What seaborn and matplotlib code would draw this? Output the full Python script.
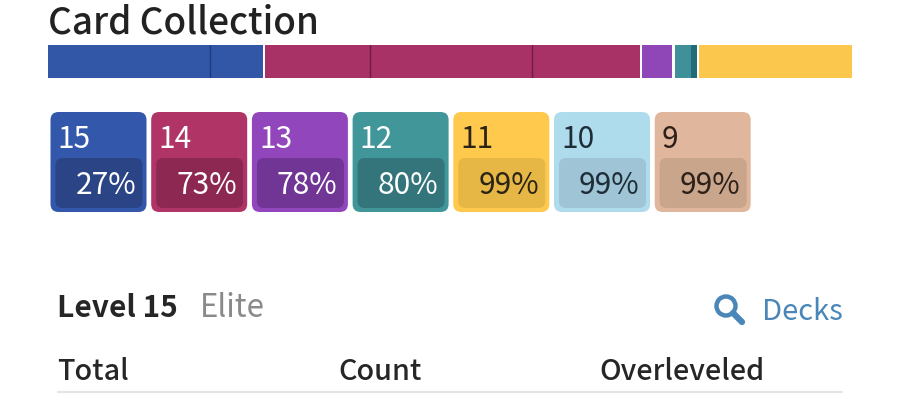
import matplotlib
matplotlib.use('Agg')
import matplotlib.pyplot as plt
import seaborn as sns
from matplotlib.patches import Circle, FancyBboxPatch

# top stacked strip, widths
seg_levels = [15, 15, 14, 14, 14, 13, 12, 12, 11]
seg_widths = [162, 53, 105, 162, 108, 30, 16, 6, 153]
seg_gaps = [0, 2, 0, 0, 2, 3, 0, 2, 0]
seg_colors = ['#3157a6', '#3157a6', '#a83265', '#a83265', '#a83265', '#8f47b8', '#3f9098', '#1f6b78', '#fbc74d']
tick_colors = {15: '#1f3a80', 14: '#6d1c45'}

# cards
levels = [15, 14, 13, 12, 11, 10, 9]
percents = [27, 73, 78, 80, 99, 99, 99]
card_colors = ['#3358ab', '#b03566', '#9147bb', '#41969a', '#fec94c', '#aedcec', '#e0b79d']
inner_colors = ['#2a4485', '#8c2852', '#703595', '#33757a', '#e6b745', '#9ec4d6', '#c9a58c']
text_colors = ['#ffffff', '#ffffff', '#ffffff', '#ffffff', '#2b2416', '#1f2d38', '#2e2119']

columns = ['Total', 'Count', 'Overleveled']
column_x = [57, 338, 599]

sns.set_theme(style='white')
plt.rcParams['font.family'] = ['Noto Sans CJK JP', 'DejaVu Sans']

fig = plt.figure(figsize=(9, 4), dpi=100)

# full figure axes in pixel coordinates
ax = fig.add_axes([0, 0, 1, 1])
ax.set_xlim(0, 900)
ax.set_ylim(400, 0)
ax.axis('off')

# strip
ax_bar = fig.add_axes([0, 1 - 78 / 400, 1, 33 / 400])
left = 48
for i in range(len(seg_widths)):
    sns.barplot(x=[seg_widths[i]], y=['strip'], left=left, color=seg_colors[i],
                saturation=1, width=1, ax=ax_bar, linewidth=0)
    left += seg_widths[i]
    # darker tick between pieces of the same level
    if seg_levels[i] in tick_colors and i < len(seg_widths) - 1 and seg_levels[i] == seg_levels[i + 1]:
        ax_bar.axvline(left, color=tick_colors[seg_levels[i]], lw=1)
    left += seg_gaps[i]
ax_bar.set_xlim(0, 900)
ax_bar.axis('off')

ax.text(48, 23, 'Card Collection', fontsize=26.6, fontweight='medium', color='#222222', va='center')

# cards
for i in range(len(levels)):
    x0 = 50.5 + i * 100.7
    ax.add_patch(FancyBboxPatch((x0, 112), 96, 100, boxstyle='round,pad=0,rounding_size=8',
                                fc=card_colors[i], ec='none'))
    ax.add_patch(FancyBboxPatch((x0 + 5, 158), 87, 50, boxstyle='round,pad=0,rounding_size=7',
                                fc=inner_colors[i], ec='none'))
    ax.text(x0 + 7, 140, str(levels[i]), fontsize=21.5, color=text_colors[i], va='center')
    ax.text(x0 + 85.5, 186, str(percents[i]) + '%', fontsize=21.5, color=text_colors[i], va='center', ha='right')

# level header
ax.text(57, 308, 'Level 15', fontsize=21.5, fontweight='bold', color='#262626', va='center')
ax.text(200, 308, 'Elite', fontsize=22.5, color='#8a8a8a', va='center')
ax.text(762, 312, 'Decks', fontsize=21, color='#4a86b8', va='center')

# magnifier icon
ax.add_patch(Circle((726, 306), 9.5, fc='none', ec='#4a86b8', lw=3.2))
ax.plot([733, 742], [313, 322], color='#4a86b8', lw=4.5, solid_capstyle='round')

# table header
for i in range(len(columns)):
    ax.text(column_x[i], 371, columns[i], fontsize=20.7, fontweight='medium', color='#262626', va='center')
ax.plot([58, 842], [392, 392], color='#e4e4e4', lw=1.5)

fig.savefig('out.png', dpi=100)
